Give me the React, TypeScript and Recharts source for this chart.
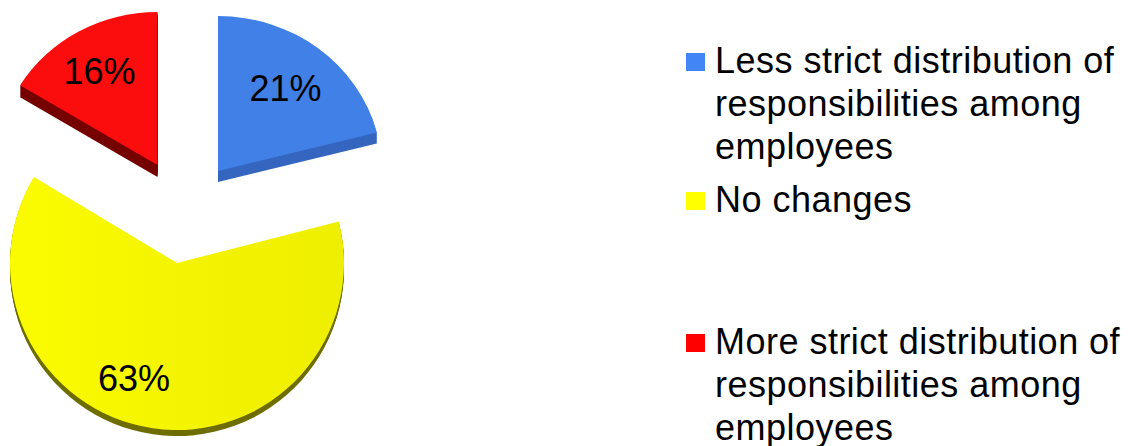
import { Cell, Legend, Pie, PieChart, Sector } from "recharts";

const categories = [
  "Less strict distribution of responsibilities among employees",
  "No changes",
  "More strict distribution of responsibilities among employees",
];
const shares = [21, 63, 16];

const topColors = ["#4180e6", "url(#yellowTop)", "#fb0d0d"];
const swatchColors = ["#4285f4", "#ffff00", "#ff0000"];
const sideColors = ["#3566bf", "#6e6e00", "#760000"];

const FONT = '"Liberation Sans", Arial, sans-serif';
const CX = 177;
const CY = 263;
const RADIUS = 167;

// exploded slices sit on their own apex, squeezed a little to fake the tilt
const apexX = [218, 177, 157.5];
const apexY = [171, 263, 165];
const stretchX = [0.982, 1, 0.964];
const stretchY = [0.928, 1, 0.916];
const depths = [11, 6, 12];
// the tilt moves the slice edge on the left side by a degree or two
const endNudge = [0, 1.4, 0];
const startNudge = [0, 0, 1];

const labelDx = [67.5, -43, -58];
const labelDy = [-83, 115, -94];
const legendTops = [39, 178, 320];

const pieData = categories.map((name, i) => ({ name, value: shares[i] }));

function ExplodedSlice(props: any) {
  const { index, cx, cy, innerRadius, outerRadius, startAngle, endAngle, fill } = props;
  const base = {
    cx,
    cy,
    innerRadius,
    outerRadius,
    startAngle: startAngle + startNudge[index],
    endAngle: endAngle + endNudge[index],
  };
  const layers = [];
  for (let d = depths[index]; d > 0; d--) {
    layers.push(d);
  }
  return (
    <g>
      {layers.map((d) => (
        <g
          key={d}
          transform={`translate(${apexX[index]} ${apexY[index] + d}) scale(${stretchX[index]} ${stretchY[index]}) translate(${-cx} ${-cy})`}
        >
          <Sector {...base} fill={sideColors[index]} stroke="none" />
        </g>
      ))}
      <g
        transform={`translate(${apexX[index]} ${apexY[index]}) scale(${stretchX[index]} ${stretchY[index]}) translate(${-cx} ${-cy})`}
      >
        <Sector {...base} fill={fill} stroke="none" />
      </g>
    </g>
  );
}

function renderLabel(props: any) {
  const { index, value } = props;
  return (
    <text
      x={apexX[index] + labelDx[index]}
      y={apexY[index] + labelDy[index]}
      textAnchor="middle"
      dominantBaseline="central"
      fontFamily={FONT}
      fontSize={36}
      fill="#000"
    >
      {value}%
    </text>
  );
}

function renderLegend() {
  return (
    <div style={{ position: "relative", width: 444, height: 446 }}>
      {categories.map((name, i) => (
        <div
          key={name}
          style={{
            position: "absolute",
            left: 0,
            top: legendTops[i],
            width: 444,
            fontFamily: FONT,
            fontSize: 36,
            lineHeight: "43px",
            letterSpacing: "0.48px",
            color: "#000",
          }}
        >
          <span
            style={{
              position: "absolute",
              left: 2,
              top: 14,
              width: 19,
              height: 18,
              background: swatchColors[i],
            }}
          />
          <div style={{ marginLeft: 31, width: 412 }}>{name}</div>
        </div>
      ))}
    </div>
  );
}

export default function App() {
  return (
    <div style={{ position: "absolute", left: 0, top: 0, width: 1128, height: 446 }}>
      <PieChart width={1128} height={446} margin={{ top: 0, right: 0, bottom: 0, left: 0 }}>
        <defs>
          <linearGradient id="yellowTop" x1="0" y1="0" x2="1" y2="0">
            <stop offset="0%" stopColor="#fbfb00" />
            <stop offset="100%" stopColor="#eeee00" />
          </linearGradient>
        </defs>
        <Pie
          data={pieData}
          dataKey="value"
          nameKey="name"
          cx={CX}
          cy={CY}
          innerRadius={0}
          outerRadius={RADIUS}
          startAngle={90}
          endAngle={-270}
          stroke="none"
          shape={ExplodedSlice}
          label={renderLabel}
          labelLine={false}
          isAnimationActive={false}
        >
          {pieData.map((d, i) => (
            <Cell key={d.name} fill={topColors[i]} />
          ))}
        </Pie>
        <Legend
          content={renderLegend}
          layout="vertical"
          wrapperStyle={{ position: "absolute", left: 684, top: 0, width: 444, height: 446 }}
        />
      </PieChart>
    </div>
  );
}
